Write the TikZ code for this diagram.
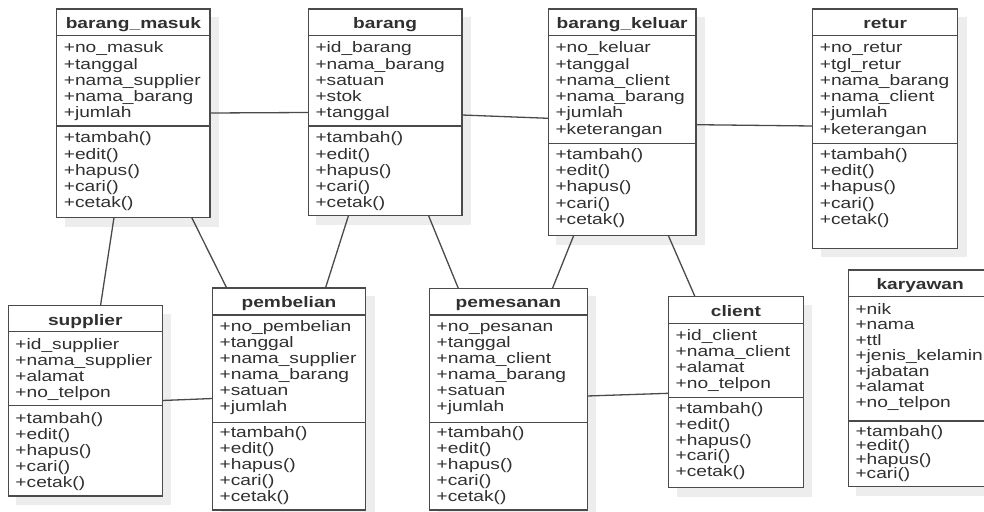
\documentclass[tikz,border=0pt]{standalone}
\usepackage{fontspec}
\setmainfont{Liberation Sans}[FakeStretch=1.26]
\definecolor{bd}{HTML}{4A4A4A}
\definecolor{tx}{HTML}{303030}
\definecolor{sh}{HTML}{EDEDED}
\tikzset{
  clsbox/.style={draw=bd, line width=1.4pt, rectangle, inner sep=0pt, outer sep=0pt, anchor=north west, fill=white},
  txt/.style={text=tx, inner sep=0pt, anchor=base west, font=\fontsize{15.2}{16}\selectfont},
  ttl/.style={text=tx, inner sep=0pt, anchor=base, font=\fontsize{15.2}{16}\selectfont\bfseries},
  sepline/.style={draw=bd, line width=1.4pt},
  conn/.style={draw=bd, line width=1.3pt}
}
\newcommand{\cls}[8]{%
  \fill[sh] ({#2+8},{#3+8}) rectangle ({#4+9},{#5+9});
  \node[clsbox, minimum width={(#4-#2)*1pt}, minimum height={(#5-#3)*1pt}] (#1) at (#2,#3) {};
  \draw[sepline] (#2,#6) -- (#4,#6);
  \draw[sepline] (#2,#7) -- (#4,#7);
  \node[ttl] (#1-title) at ({(#2+#4)/2},{#3+19.3}) {#8};
}
\newcommand{\rows}[5]{%
  \foreach \t [count=\i from 0] in {#5} {\node[txt] (#1-\i) at ({#2+7},{#3+\i*#4}) {\t};}
}
\begin{document}
\begin{tikzpicture}[x=1pt,y=-1pt]
\useasboundingbox (0,0) rectangle (984,511);
\clip (0,0) rectangle (984,511);
\fill[white] (0,0) rectangle (984,511);

% barang_masuk
\cls{bm}{56.7}{9}{210}{217.5}{35.7}{126}{barang\_masuk}
\rows{bm-a}{56.7}{52.7}{16.3}{+no\_masuk,+tanggal,+nama\_supplier,+nama\_barang,+jumlah}
\rows{bm-m}{56.7}{142.7}{16.3}{+tambah(),+edit(),+hapus(),+cari(),+cetak()}

% barang
\cls{br}{308.3}{9}{462}{215.5}{35.7}{126}{barang}
\rows{br-a}{308.3}{52.7}{16.3}{+id\_barang,+nama\_barang,+satuan,+stok,+tanggal}
\rows{br-m}{308.3}{142.7}{16.3}{+tambah(),+edit(),+hapus(),+cari(),+cetak()}

% barang_keluar
\cls{bk}{548.3}{9}{696}{235.5}{35.7}{143.3}{barang\_keluar}
\rows{bk-a}{548.3}{52.7}{16.3}{+no\_keluar,+tanggal,+nama\_client,+nama\_barang,+jumlah,+keterangan}
\rows{bk-m}{548.3}{159.7}{16.1}{+tambah(),+edit(),+hapus(),+cari(),+cetak()}

% retur
\cls{rt}{812.7}{9}{957.7}{248.3}{35.7}{143.3}{retur}
\rows{rt-a}{812.7}{52.7}{16.3}{+no\_retur,+tgl\_retur,+nama\_barang,+nama\_client,+jumlah,+keterangan}
\rows{rt-m}{812.7}{159.7}{16.1}{+tambah(),+edit(),+hapus(),+cari(),+cetak()}

% supplier
\cls{sp}{8.3}{305.7}{162.3}{496}{331.7}{405.7}{supplier}
\rows{sp-a}{8.3}{349.2}{16.2}{+id\_supplier,+nama\_supplier,+alamat,+no\_telpon}
\rows{sp-m}{8.3}{423}{16}{+tambah(),+edit(),+hapus(),+cari(),+cetak()}

% pembelian
\cls{pb}{212.5}{288}{365.5}{510}{315}{422.3}{pembelian}
\rows{pb-a}{212.5}{331.7}{16}{+no\_pembelian,+tanggal,+nama\_supplier,+nama\_barang,+satuan,+jumlah}
\rows{pb-m}{212.5}{437.3}{16.1}{+tambah(),+edit(),+hapus(),+cari(),+cetak()}

% pemesanan
\cls{ps}{429.5}{288.3}{587.2}{510}{315}{422.3}{pemesanan}
\rows{ps-a}{429.5}{331.7}{16}{+no\_pesanan,+tanggal,+nama\_client,+nama\_barang,+satuan,+jumlah}
\rows{ps-m}{429.5}{437.3}{16.1}{+tambah(),+edit(),+hapus(),+cari(),+cetak()}

% client
\cls{cl}{668.5}{296.7}{803.3}{487.7}{323.3}{397.7}{client}
\rows{cl-a}{668.5}{340}{16.1}{+id\_client,+nama\_client,+alamat,+no\_telpon}
\rows{cl-m}{668.5}{413.5}{15.8}{+tambah(),+edit(),+hapus(),+cari(),+cetak()}

% karyawan
\cls{kw}{848.3}{270}{992}{486.7}{296.7}{421}{karyawan}
\rows{kw-a}{848.3}{314}{15.5}{+nik,+nama,+ttl,+jenis\_kelamin,+jabatan,+alamat,+no\_telpon}
\rows{kw-m}{848.3}{436.7}{14}{+tambah(),+edit(),+hapus(),+cari()}

% connectors
\draw[conn] ([yshift=-104pt]bm.north east) -- ([yshift=-103.5pt]br.north west);
\draw[conn] ([yshift=-106pt]br.north east) -- ([yshift=-109.3pt]bk.north west);
\draw[conn] ([yshift=-115.7pt]bk.north east) -- ([yshift=-117pt]rt.north west);
\draw[conn] ([xshift=57.3pt]bm.south west) -- ([xshift=92.2pt]sp.north west);
\draw[conn] ([xshift=135pt]bm.south west) -- ([xshift=14.2pt]pb.north west);
\draw[conn] ([xshift=40.2pt]br.south west) -- ([xshift=113pt]pb.north west);
\draw[conn] ([xshift=120.2pt]br.south west) -- ([xshift=28.8pt]ps.north west);
\draw[conn] ([xshift=25.4pt]bk.south west) -- ([xshift=123pt]ps.north west);
\draw[conn] ([xshift=120pt]bk.south west) -- ([xshift=26.5pt]cl.north west);
\draw[conn] ([yshift=-94.8pt]sp.north east) -- ([yshift=-110.5pt]pb.north west);
\draw[conn] ([yshift=-107.7pt]ps.north east) -- ([yshift=-96.6pt]cl.north west);
\end{tikzpicture}
\end{document}
